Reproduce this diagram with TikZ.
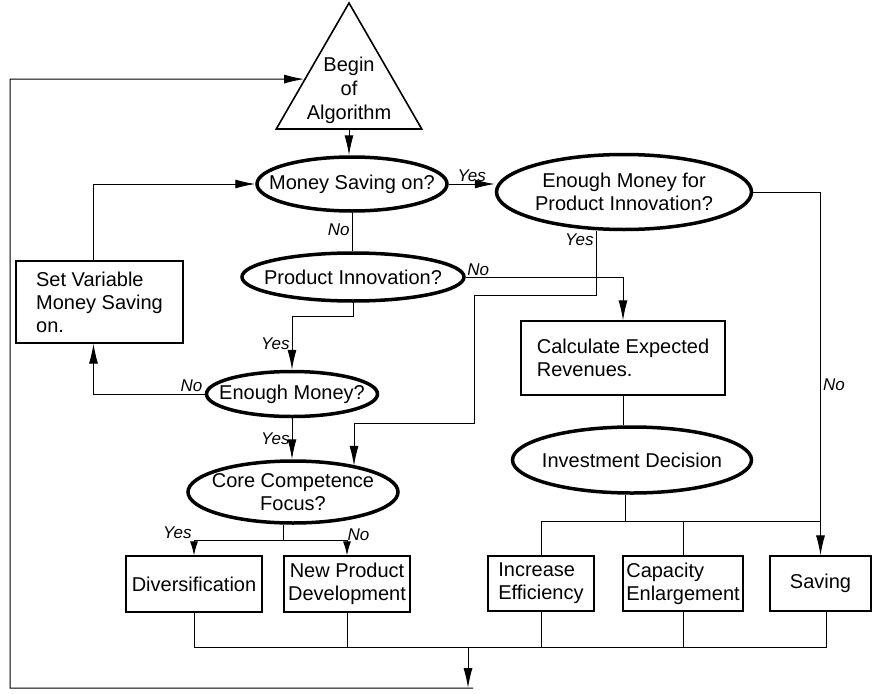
\documentclass[tikz,border=0pt]{standalone}
\usepackage{fontspec}
\setmainfont{Liberation Sans}
\usepackage{tikz}
\usetikzlibrary{shapes.geometric,arrows.meta}

\begin{document}
\begin{tikzpicture}[
  x=1pt, y=-1pt,
  every node/.style={font=\fontsize{20}{23}\selectfont},
  starttri/.style={regular polygon, regular polygon sides=3, draw, line width=1.6pt,
    minimum size=168pt, inner sep=0pt},
  decision/.style={ellipse, draw, line width=3.5pt, inner xsep=-40pt, inner ysep=-12pt,
    align=center},
  stepbox/.style={rectangle, draw, line width=1.2pt, inner sep=0pt, align=left},
  lbl/.style={font=\fontsize{17}{17}\selectfont\itshape, inner sep=2pt},
  conn/.style={line width=1pt},
  arr/.style={conn, -{Latex[length=20pt,width=9pt]}},
  sarr/.style={conn, -{Latex[length=14pt,width=8pt]}}
  ]

\useasboundingbox (0,0) rectangle (872,693);

\node[starttri, label={[align=center, font=\fontsize{20}{24}\selectfont, yshift=-3pt]center:Begin\\of\\Algorithm}] (begin) at (349,87) {};

\node[decision, minimum width=190pt, minimum height=54pt] (ms) at (352,184) {Money Saving on?};
\node[decision, minimum width=255pt, minimum height=75pt] (emi) at (624,192) {Enough Money for\\Product Innovation?};
\node[decision, minimum width=222pt, minimum height=48pt] (pi) at (353,277) {Product Innovation?};
\node[decision, minimum width=171pt, minimum height=45pt] (em) at (292,394) {Enough Money?};
\node[decision, minimum width=210pt, minimum height=62pt] (cc) at (293,492) {Core Competence\\Focus?};
\node[decision, minimum width=239pt, minimum height=66pt] (inv) at (632,460) {Investment Decision};

\node[stepbox, minimum width=167pt, minimum height=82pt] (sv) at (99.5,302) {Set Variable\\Money Saving\\on.};
\node[stepbox, minimum width=204pt, minimum height=74pt] (calc) at (623,358) {Calculate Expected\\Revenues.};
\node[stepbox, minimum width=136pt, minimum height=56pt] (div) at (194,584) {Diversification};
\node[stepbox, minimum width=126pt, minimum height=56pt, align=center] (npd) at (347,584) {New Product\\Development};
\node[stepbox, minimum width=106pt, minimum height=55pt] (ie) at (541,583.5) {Increase\\Efficiency};
\node[stepbox, minimum width=120pt, minimum height=55pt] (ce) at (683,583.5) {Capacity\\Enlargement};
\node[stepbox, minimum width=101pt, minimum height=55pt, align=center] (sav) at (820.5,583.5) {Saving};

\coordinate (merge) at (468,647);
\coordinate (back) at (468,688);

\draw[arr] (begin.south) -- (begin.south |- ms.north);
\draw[arr] (ms.east) -- (ms.east -| emi.west) node[lbl, midway, above] {Yes};
\draw[conn] (ms.south) -- (ms.south |- pi.north) node[lbl, pos=0.45, left] {No};
\draw[arr] ([xshift=-6pt]sv.north) |- (ms.west);
\draw[arr] (em.west) node[lbl, above left] {No} -| ([xshift=-6pt]sv.south);
\draw[arr] (pi.south) -- ++(0,14) -| (em.north) node[lbl, pos=0.75, left] {Yes};
\draw[arr] (em.south) -- (em.south |- cc.north) node[lbl, midway, left] {Yes};
\draw[arr] (pi.east) node[lbl, above right, inner sep=1pt] {No} -| (calc.north);
\draw[arr] ([xshift=-28pt]emi.south) node[lbl, below left] {Yes} |- (474,295) |- (354,423) -- (354,423 |- cc.22.5);
\draw[arr] (emi.east) -| (sav.north) node[lbl, pos=0.765, right] {No};

\draw[conn] (calc.south) -- (calc.south |- inv.north);
\draw[conn] ([xshift=-7pt]inv.south) -- ([xshift=-7pt]inv.south |- 0,521);
\draw[conn] (ie.north) |- (sav.north |- 0,521);
\draw[conn] (ce.north) -- (ce.north |- 0,521);

\draw[conn] ([xshift=-10pt]cc.south) -- ++(0,16) coordinate (ccbar);
\draw[sarr] (ccbar) -| (div.north) node[lbl, pos=0.5, above left] {Yes};
\draw[sarr] (ccbar) -| (npd.north) node[lbl, pos=0.5, above right, inner sep=0pt] {No};

\draw[conn] (div.south) |- ([xshift=5.5pt]sav.south |- merge) -- ([xshift=5.5pt]sav.south);
\foreach \n in {npd,ie,ce}
  \draw[conn] (\n.south) -- (\n.south |- merge);
\draw[arr] (merge) -- (back);
\draw[arr] ([xshift=5pt]back) -| (10,79) -- (begin.170);

\end{tikzpicture}
\end{document}
